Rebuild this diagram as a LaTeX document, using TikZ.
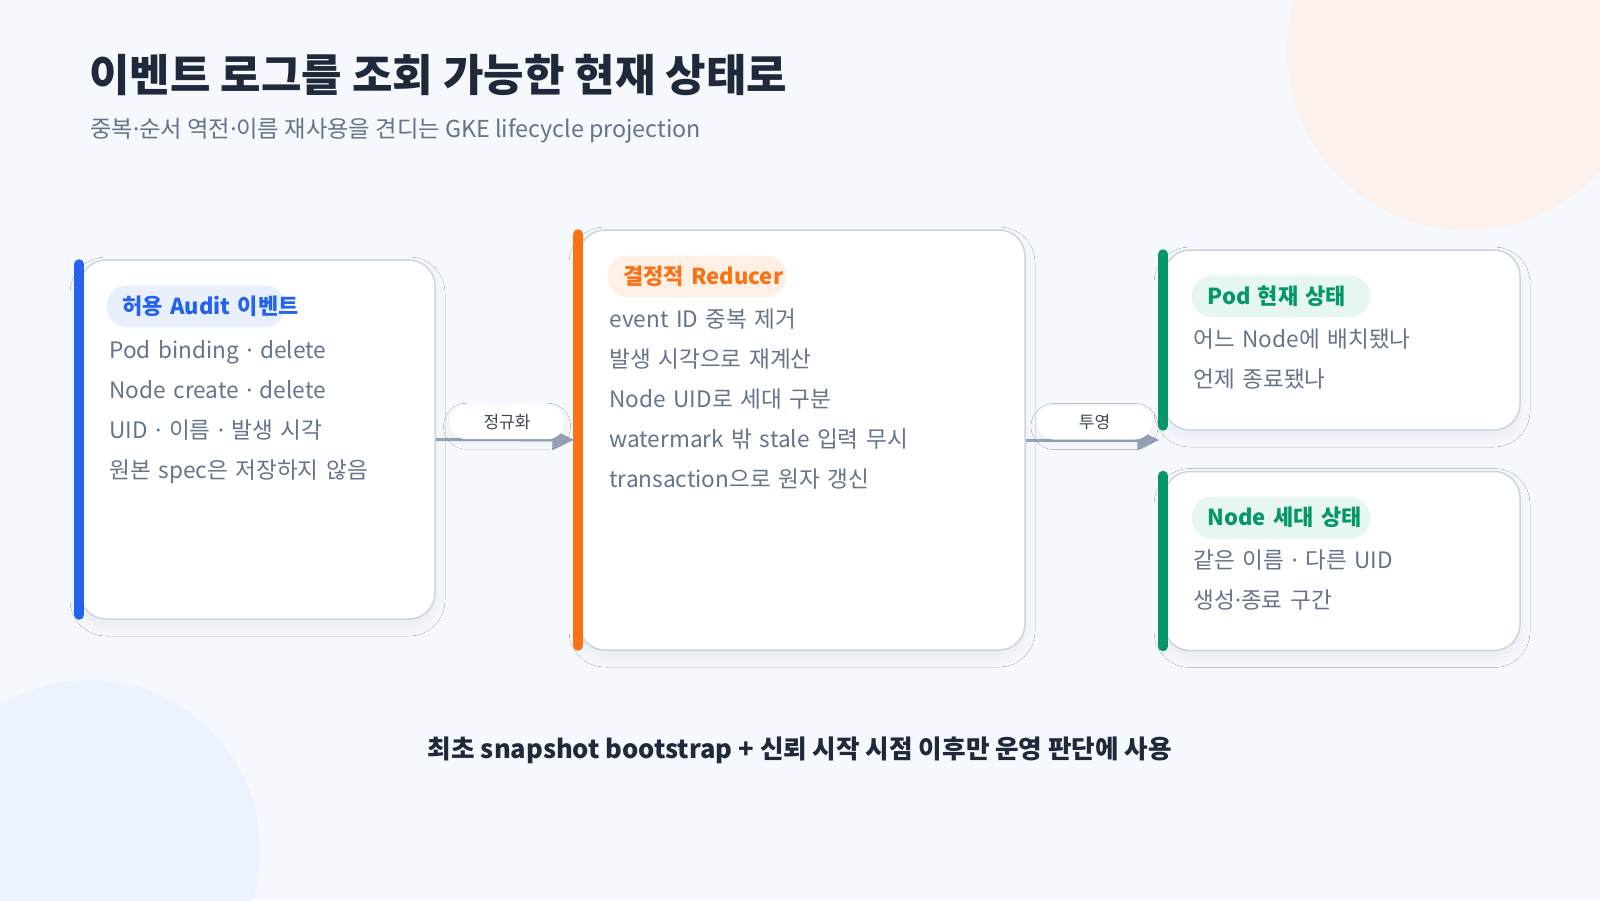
\documentclass[tikz,border=0pt]{standalone}
\usepackage{fontspec}
\setmainfont{Noto Sans CJK KR}
\newfontfamily\blackfont{Noto Sans CJK KR Black}
\newfontfamily\dotfont{Noto Sans}
\newcommand{\md}{{\dotfont ·}}
\usepackage{tikz}
\usetikzlibrary{positioning,arrows.meta,shadows.blur}

\definecolor{pagebg}{HTML}{F5F8FC}
\definecolor{peach}{HTML}{FDF1EC}
\definecolor{mist}{HTML}{EDF3FE}
\definecolor{ink}{HTML}{1E293B}
\definecolor{slate}{HTML}{64748B}
\definecolor{edge}{HTML}{CBD5E1}
\definecolor{arrowgray}{HTML}{94A3B8}
\definecolor{auditblue}{HTML}{2563EB}
\definecolor{auditfill}{HTML}{E8F0FE}
\definecolor{reduceorange}{HTML}{F97316}
\definecolor{reducefill}{HTML}{FFF0E6}
\definecolor{stategreen}{HTML}{059669}
\definecolor{statefill}{HTML}{E6F7EF}

\tikzset{
  card/.style    = {draw=edge, line width=1.5pt, fill=white, rounded corners=26pt,
                    blur shadow={shadow xshift=0pt, shadow yshift=-7pt, shadow blur radius=10pt, shadow opacity=5}},
  cardbar/.style = {line width=10pt, line cap=round, #1},
  badge/.style   = {fill=#1, rounded corners=21pt, minimum height=42pt, text width=147pt,
                    inner xsep=16pt, inner ysep=0pt, align=left, font=\fontsize{22}{26}\bfseries, anchor=west},
  body/.style    = {text=slate, text width=400pt, align=left, inner sep=0pt, anchor=base west,
                    font=\fontsize{22.6}{40}\selectfont},
  flow/.style    = {draw=arrowgray, line width=3pt, -{Triangle[length=22pt,width=20pt]}, shorten >=4pt},
  edgetag/.style = {fill=white, rounded corners=17pt, minimum width=115pt, minimum height=34pt,
                    inner sep=0pt, text=ink!85, font=\fontsize{17}{20}\selectfont, above=-1pt,
                    blur shadow={shadow xshift=0pt, shadow yshift=-4pt, shadow blur radius=6pt, shadow opacity=5}}
}

\begin{document}
\begin{tikzpicture}[x=1pt, y=-1pt]
  % page and backdrop circles
  \fill[pagebg] (0,0) rectangle (1600,900);
  \useasboundingbox (0,0) rectangle (1600,900);
  \fill[peach] (1467,50) circle (180);
  \fill[mist] (90,850) circle (170);

  % heading
  \node[anchor=west, text=ink, inner sep=0pt, font=\blackfont\fontsize{44}{50}\selectfont] (title) at (89,75) {이벤트 로그를 조회 가능한 현재 상태로};
  \node[anchor=west, text=slate, inner sep=0pt, font=\fontsize{23.3}{26}\selectfont] (subtitle) at (90,131) {중복\md 순서 역전\md 이름 재사용을 견디는 GKE lifecycle projection};

  % cards
  \node[card, minimum width=355pt, minimum height=359pt] (audit) at (257.5,439.5) {};
  \node[card, minimum width=446pt, minimum height=420pt] (reducer) at (802,440) {};
  \node[card, minimum width=356pt, minimum height=180pt] (pod) at (1342,340) {};
  \node[card, minimum width=356pt, minimum height=179pt, below=40pt of pod] (gen) {};

  \draw[cardbar=auditblue] ([yshift=-5pt]audit.north west) -- ([yshift=5pt]audit.south west);
  \draw[cardbar=reduceorange] ([yshift=-5pt]reducer.north west) -- ([yshift=5pt]reducer.south west);
  \draw[cardbar=stategreen] ([yshift=-5pt]pod.north west) -- ([yshift=5pt]pod.south west);
  \draw[cardbar=stategreen] ([yshift=-5pt]gen.north west) -- ([yshift=5pt]gen.south west);

  % badges
  \node[badge=auditfill, text=auditblue] (auditTag) at ([shift={(27,47)}]audit.north west) {\mbox{허용 Audit 이벤트}};
  \node[badge=reducefill, text=reduceorange] (reducerTag) at ([shift={(29,47)}]reducer.north west) {\mbox{결정적 Reducer}};
  \node[badge=statefill, text=stategreen] (podTag) at ([shift={(28,47)}]pod.north west) {\mbox{Pod 현재 상태}};
  \node[badge=statefill, text=stategreen] (genTag) at ([shift={(28,47)}]gen.north west) {\mbox{Node 세대 상태}};

  % card text
  \node[body] (auditText) at ([shift={(3,52)}]auditTag.west) {Pod binding \md{} delete\\Node create \md{} delete\\UID \md{} 이름 \md{} 발생 시각\\원본 spec은 저장하지 않음};
  \node[body] (reducerText) at ([shift={(2,51)}]reducerTag.west) {event ID 중복 제거\\발생 시각으로 재계산\\Node UID로 세대 구분\\watermark 밖 stale 입력 무시\\transaction으로 원자 갱신};
  \node[body] (podText) at ([shift={(2,51)}]podTag.west) {어느 Node에 배치됐나\\언제 종료됐나};
  \node[body] (genText) at ([shift={(2,51)}]genTag.west) {같은 이름 \md{} 다른 UID\\생성\md 종료 구간};

  % connectors
  \coordinate (projIn) at (reducer.east -| pod.west);
  \draw[flow] (audit) -- (reducer) node[midway, edgetag] {정규화};
  \draw[flow] (reducer.east) -- (projIn) node[midway, edgetag] {투영};

  % footnote
  \node[text=ink, font=\fontsize{25.6}{30}\bfseries] (note) at (800,750) {최초 snapshot bootstrap + 신뢰 시작 시점 이후만 운영 판단에 사용};
\end{tikzpicture}
\end{document}
